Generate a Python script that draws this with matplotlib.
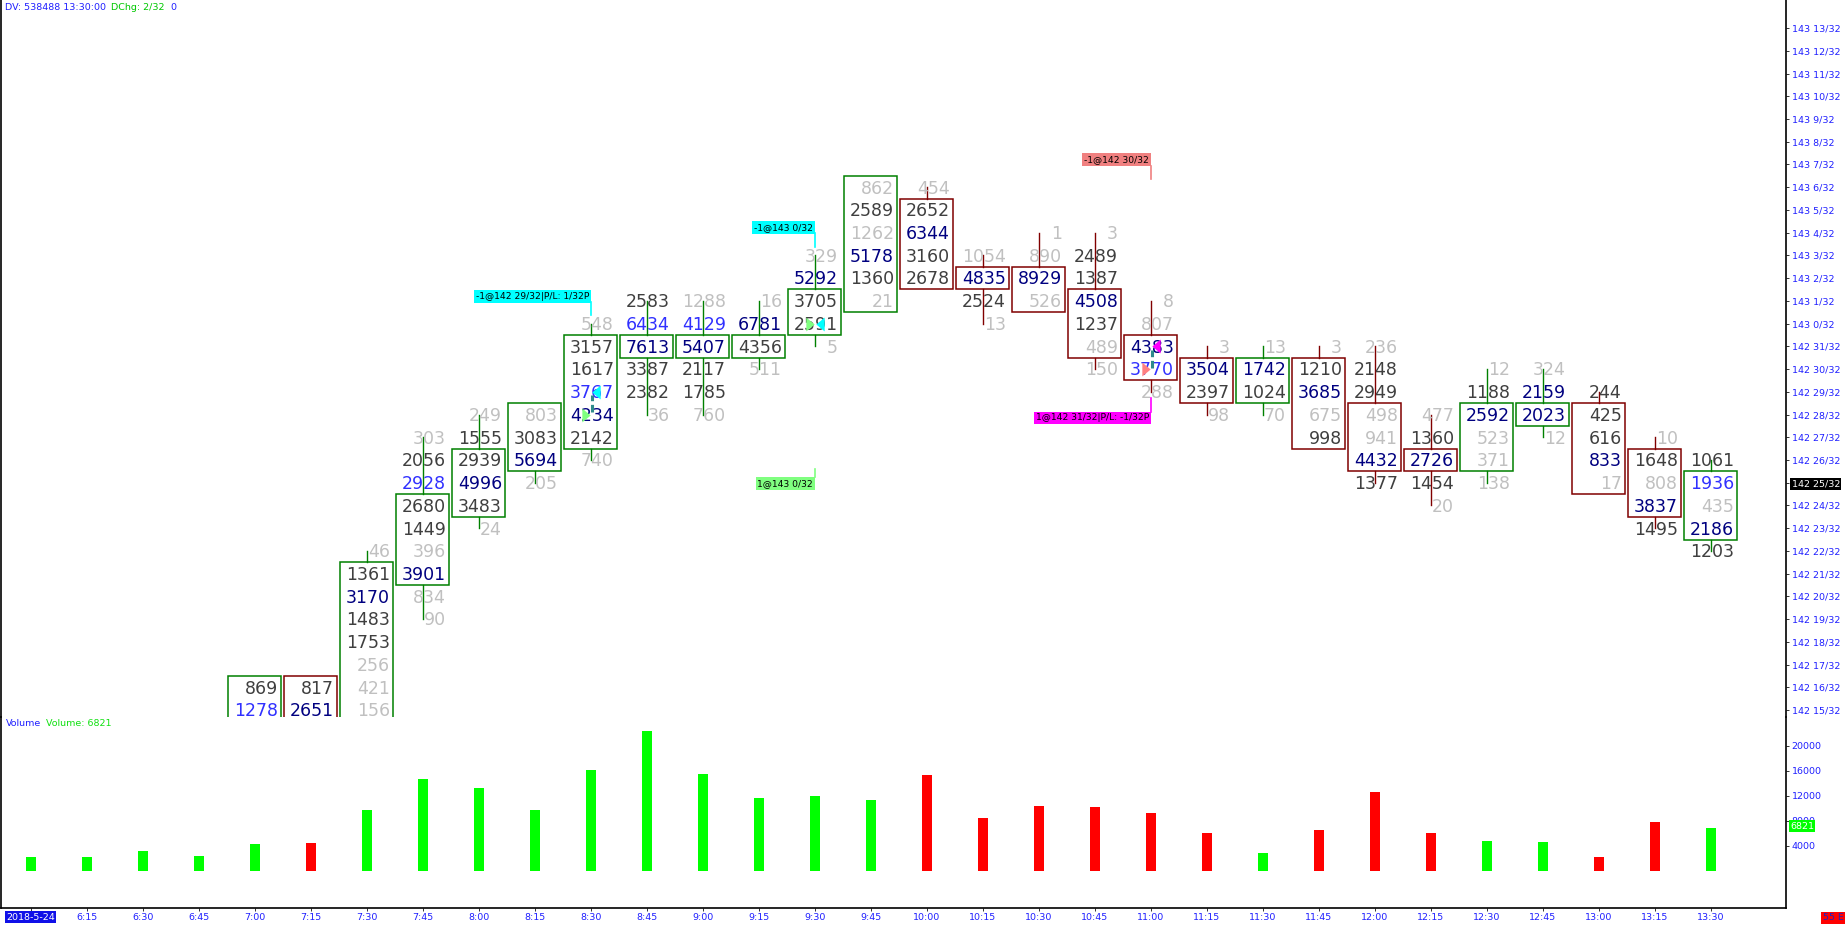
import matplotlib
matplotlib.use("Agg")
import matplotlib.pyplot as plt
from matplotlib.patches import Rectangle
from matplotlib.transforms import offset_copy

plt.rcParams['font.family'] = ['DejaVu Sans']

# ---------------- data ----------------
times = ["2018-5-24", "6:15", "6:30", "6:45", "7:00", "7:15", "7:30", "7:45",
         "8:00", "8:15", "8:30", "8:45", "9:00", "9:15", "9:30", "9:45",
         "10:00", "10:15", "10:30", "10:45", "11:00", "11:15", "11:30", "11:45",
         "12:00", "12:15", "12:30", "12:45", "13:00", "13:15", "13:30"]

# prices are expressed in 32nds above 142 (25 -> 142 25/32, 33 -> 143 1/32)
bar_high = [None, None, None, None, 16, 16, 22, 27, 28, 28, 32, 33, 33, 33, 35, 38,
            38, 35, 36, 36, 33, 31, 31, 31, 31, 28, 30, 30, 29, 27, 26]

# footprint cell volumes, listed from the high price downwards
cell_values = [
    [], [], [], [],
    [869, 1278],
    [817, 2651],
    [46, 1361, 3170, 1483, 1753, 256, 421, 156],
    [303, 2056, 2928, 2680, 1449, 396, 3901, 834, 90],
    [249, 1555, 2939, 4996, 3483, 24],
    [803, 3083, 5694, 205],
    [548, 3157, 1617, 3767, 4234, 2142, 740],
    [2583, 6434, 7613, 3387, 2382, 36],
    [1288, 4129, 5407, 2117, 1785, 760],
    [16, 6781, 4356, 511],
    [329, 5292, 3705, 2591, 5],
    [862, 2589, 1262, 5178, 1360, 21],
    [454, 2652, 6344, 3160, 2678],
    [1054, 4835, 2524, 13],
    [1, 890, 8929, 526],
    [3, 2489, 1387, 4508, 1237, 489, 150],
    [8, 807, 4383, 3770, 288],
    [3, 3504, 2397, 98],
    [13, 1742, 1024, 70],
    [3, 1210, 3685, 675, 998],
    [236, 2148, 2949, 498, 941, 4432, 1377],
    [477, 1360, 2726, 1454, 20],
    [12, 1188, 2592, 523, 371, 138],
    [324, 2159, 2023, 12],
    [244, 425, 616, 833, 17],
    [10, 1648, 808, 3837, 1495],
    [1061, 1936, 435, 2186, 1203],
]
# cell text class: g = small, k = normal, n = large, b = highlighted
cell_classes = [
    "", "", "", "",
    "kb", "kn", "gknkkggg", "gkbkkgngg", "gkknkg", "gkng", "gkkbnkg",
    "kbnkkg", "gbnkkg", "gnkg", "gnkkg", "gkgnkg",
    "gknkk", "gnkg", "ggng", "gkknkgg", "ggnbg",
    "gnkg", "gnkg", "gkngk", "gkkggnk", "gknkg",
    "gknggg", "gnng", "kkkng", "gkgnk", "kbgnk",
]
# open/close body (lower, upper) in 32nds
body_low = [None, None, None, None, 13, 13, 13, 21, 24, 26, 27, 31, 31, 31, 32, 33,
            34, 34, 33, 31, 30, 29, 29, 27, 26, 26, 26, 28, 25, 24, 23]
body_high = [None, None, None, None, 16, 16, 21, 24, 26, 28, 31, 31, 31, 31, 33, 38,
             37, 34, 34, 33, 31, 30, 30, 30, 28, 26, 28, 28, 28, 26, 25]
up_bar = [1, 1, 1, 1, 1, 0, 1, 1, 1, 1, 1, 1, 1, 1, 1, 1,
          0, 0, 0, 0, 0, 0, 1, 0, 0, 0, 1, 1, 0, 0, 1]
volume = [2150, 2150, 3100, 2300, 4200, 4500, 9800, 14637, 13246, 9785, 16205,
          22435, 15486, 11664, 11922, 11272, 15288, 8426, 10346, 10263, 9256,
          6002, 2849, 6571, 12581, 6037, 4824, 4518, 2135, 7798, 6821]

price_ticks = list(range(15, 46))
volume_ticks = [4000, 8000, 12000, 16000, 20000]

# trades: (bar, price, side)  side: 'buy' -> right triangle, 'sell' -> left triangle
trade_marks = [
    (10, 28, 'buy', '#80ff80'), (10, 29, 'sell', '#00ffff'),
    (14, 32, 'buy', '#80ff80'), (14, 32, 'sell', '#00ffff'),
    (20, 30, 'buy', '#ff8080'), (20, 31, 'sell', '#ff00ff'),
]
trade_labels = [
    (10, "-1@142 29/32|P/L: 1/32P", '#00ffff', 33.19, (32.95, 32.38)),
    (14, "-1@143 0/32", '#00ffff', 36.23, (35.97, 35.38)),
    (14, "1@143 0/32", '#80ff80', 24.96, (25.25, 25.6)),
    (20, "-1@142 30/32", '#f08080', 39.22, (38.95, 38.36)),
    (20, "1@142 31/32|P/L: -1/32P", '#ff00ff', 27.85, (28.12, 28.73)),
]
trade_links = [(10, 28.12, 28.86), (20, 30.05, 30.84)]


def price_label(t):
    return f"{142 + t // 32} {t % 32}/32"


# ---------------- layout ----------------
W, H, DPI = 1848, 926, 100
fig = plt.figure(figsize=(W / DPI, H / DPI), dpi=DPI)
fig.patch.set_facecolor('white')

L_PX, R_PX = 1, 1786
P_TOP, P_BOT, V_BOT = 0, 717, 908
pax = fig.add_axes([L_PX / W, (H - P_BOT) / H, (R_PX - L_PX) / W, (P_BOT - P_TOP) / H])
vax = fig.add_axes([L_PX / W, (H - V_BOT) / H, (R_PX - L_PX) / W, (V_BOT - P_BOT) / H])

X0, DX = 30.6, 56.0
xl = ((L_PX - X0) / DX, (R_PX - X0) / DX)
for a in (pax, vax):
    a.set_xlim(*xl)
    a.set_facecolor('white')
    a.patch.set_alpha(0)

ROW = 22.73
pax.set_ylim(15 - (P_BOT - 710) / ROW, 15 + 710 / ROW)
VPX = 160.5
vax.set_ylim(-(V_BOT - 870.6) * VPX, (870.6 - P_BOT) * VPX)

for a in (pax, vax):
    for s in a.spines.values():
        s.set_color('black')
        s.set_linewidth(1.2)
pax.spines['top'].set_visible(False)
pax.spines['bottom'].set_visible(False)
vax.spines['top'].set_visible(False)

col_txt = {'g': '#c0c0c0', 'k': '#3f3f3f', 'n': '#000080', 'b': '#3030ff'}
GREEN, RED = '#008000', '#800000'

HALF = 26.7 / DX
TXT_R = 23.4 / DX
BASE_OFF = 0.28

for i, vals in enumerate(cell_values):
    if not vals:
        continue
    hi = bar_high[i]
    lo = hi - len(vals) + 1
    ec = GREEN if up_bar[i] else RED
    bl, bh = body_low[i], body_high[i]
    pax.add_patch(Rectangle((i - HALF, bl - 0.5), 2 * HALF, bh - bl + 1,
                            fill=False, edgecolor=ec, lw=1.1, zorder=2))
    if hi > bh:
        pax.plot([i, i], [bh + 0.5, hi], color=ec, lw=1.0, zorder=1.5)
    if lo < bl:
        pax.plot([i, i], [lo, bl - 0.5], color=ec, lw=1.0, zorder=1.5)
    for k, (v, c) in enumerate(zip(vals, cell_classes[i])):
        t = hi - k
        pax.text(i + TXT_R, t - BASE_OFF, str(v), ha='right', va='baseline',
                 color=col_txt[c], fontsize=12.5, zorder=3, clip_on=True)

# trade markers
tri_left = [(-0.6, 0), (0.6, 1), (0.6, -1)]
tri_right = [(0.6, 0), (-0.6, 1), (-0.6, -1)]
for b, p, side, c in trade_marks:
    if side == 'buy':
        pax.plot([b - 4.8 / DX], [p], marker=tri_right, ms=10, color=c,
                 mec='none', zorder=5, ls='none')
    else:
        pax.plot([b + 5.8 / DX], [p], marker=tri_left, ms=10, color=c,
                 mec='none', zorder=5, ls='none')
for b, y0, y1 in trade_links:
    pax.plot([b + 1 / DX, b + 1 / DX], [y0, y1], color='#2e8b8b', lw=2.2,
             ls=(0, (2.5, 1.2)), zorder=4)

for b, s, c, yc, (l0, l1) in trade_labels:
    tr = offset_copy(pax.transData, fig=fig, x=-1.5, y=0, units='dots')
    pax.text(b, yc, s, ha='right', va='center', fontsize=6.6, color='black',
             transform=tr, zorder=6,
             bbox=dict(boxstyle='square,pad=0.2', fc=c, ec='none'))
    pax.plot([b, b], [l0, l1], color=c, lw=1.2, zorder=5)

# volume bars
vcols = ['#00ff00' if u else '#ff0000' for u in up_bar]
vax.bar(range(len(volume)), volume, width=10 / DX, color=vcols, zorder=2)

# ---------------- axes ticks ----------------
pax.set_xticks([])
pax.yaxis.tick_right()
pax.set_yticks(price_ticks)
pax.set_yticklabels([price_label(t) for t in price_ticks])
pax.tick_params(axis='y', length=2.5, width=0.7, color='#333333',
                labelcolor='#1f1fff', labelsize=6.8, pad=1.5)

vax.yaxis.tick_right()
vax.set_yticks(volume_ticks)
vax.set_yticklabels([str(v) for v in volume_ticks])
vax.tick_params(axis='y', length=2.5, width=0.7, color='#333333',
                labelcolor='#1f1fff', labelsize=6.8, pad=1.5)
vax.set_xticks(range(len(times)))
vax.set_xticklabels(times)
vax.tick_params(axis='x', length=2.5, width=0.7, color='#333333',
                labelcolor='#1f1fff', labelsize=6.8, pad=1.0)

lab0 = vax.get_xticklabels()[0]
lab0.set_color('white')
lab0.set_bbox(dict(boxstyle='square,pad=0.15', fc='#1010e8', ec='none'))

cur = pax.get_yticklabels()[price_ticks.index(25)]
cur.set_color('white')
cur.set_bbox(dict(boxstyle='square,pad=0.15', fc='black', ec='none'))

vax.annotate(str(volume[-1]), xy=(1, volume[-1]), xycoords=('axes fraction', 'data'),
             xytext=(4, 2), textcoords='offset pixels', ha='left', va='center',
             fontsize=6.8, color='white', annotation_clip=False, zorder=10,
             bbox=dict(boxstyle='square,pad=0.15', fc='#00ff00', ec='none'))

# ---------------- header texts ----------------
def ftext(xp, yp, s, c, **kw):
    fig.text(xp / W, 1 - yp / H, s, color=c, fontsize=6.8, va='center', ha='left', **kw)

ftext(5, 7, "DV: 538488 13:30:00", '#1f1fff')
ftext(111, 7, "DChg: 2/32", '#00c800')
ftext(170, 7, "0", '#1f1fff')
ftext(6, 724, "Volume", '#1f1fff')
ftext(46, 724, "Volume: 6821", '#11e011')
fig.text(1833 / W, 1 - 918 / H, "55 E", color='#2020c0', fontsize=6.8, ha='center',
         va='center', bbox=dict(boxstyle='square,pad=0.2', fc='#ff0000', ec='none'))

fig.savefig('out.png', dpi=DPI, facecolor='white')
